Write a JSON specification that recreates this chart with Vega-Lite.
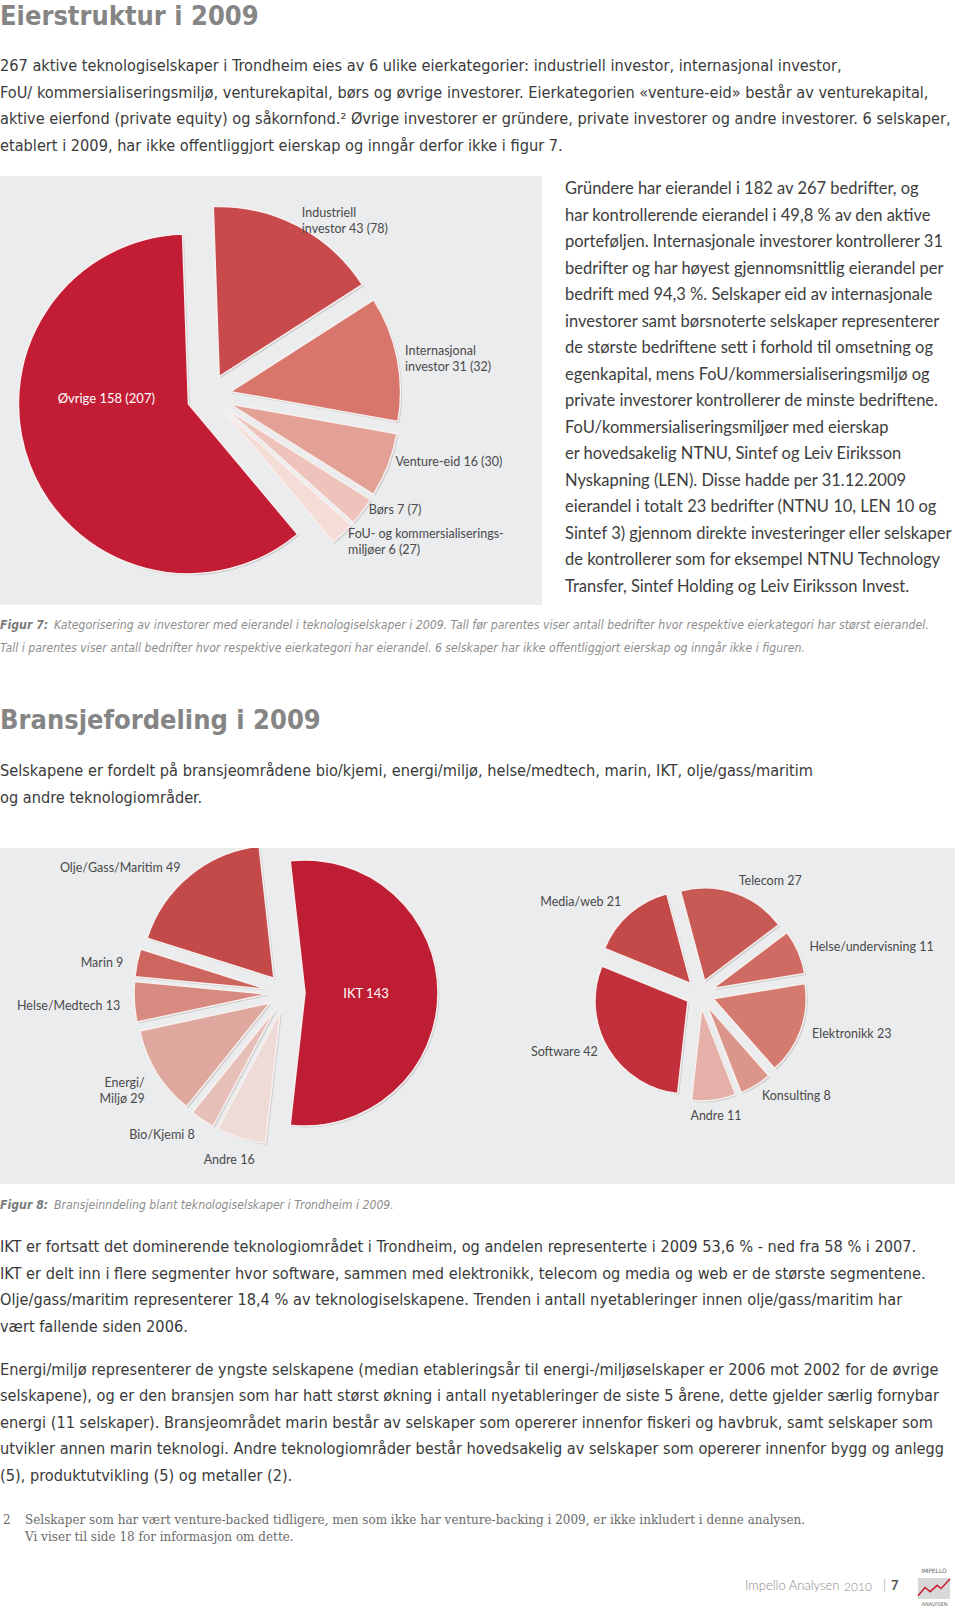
{
  "$schema": "https://vega.github.io/schema/vega-lite/v6.json",
  "background": "white",
  "padding": {"top": 3, "left": 0, "right": 0, "bottom": 0},
  "spacing": 0,
  "resolve": {"scale": {"color": "independent", "theta": "independent"}},
  "config": {
    "view": {"stroke": null},
    "title": {"anchor": "start", "offset": 0, "frame": "group", "orient": "top"},
    "concat": {"spacing": 0}
  },
  "vconcat": [
    {
      "width": 1, "height": 17, "data": {"values": []}, "mark": "text", "encoding": {},
      "title": {
        "text": "Eierstruktur i 2009",
        "font": "DejaVu Sans Condensed, DejaVu Sans, sans-serif",
        "fontSize": 27, "fontWeight": "bold", "color": "#858585",
        "subtitle": [
          "267 aktive teknologiselskaper i Trondheim eies av 6 ulike eierkategorier: industriell investor, internasjonal investor,",
          "FoU/ kommersialiseringsmiljø, venturekapital, børs og øvrige investorer. Eierkategorien «venture-eid» består av venturekapital,",
          "aktive eierfond (private equity) og såkornfond.² Øvrige investorer er gründere, private investorer og andre investorer. 6 selskaper,",
          "etablert i 2009, har ikke offentliggjort eierskap og inngår derfor ikke i figur 7."
        ],
        "subtitleFont": "DejaVu Sans Condensed, DejaVu Sans, sans-serif",
        "subtitleFontSize": 16.2, "subtitleColor": "#3a3a3a", "subtitleLineHeight": 26.5,
        "subtitlePadding": 27, "subtitleFontWeight": "normal"
      }
    },
    {
      "spacing": 23,
      "resolve": {"scale": {"color": "independent", "theta": "independent"}},
      "hconcat": [
        {
          "width": 542, "height": 429,
          "view": {"fill": "#ebecee", "stroke": null},
          "data": {"values": [
            {"name": "Industriell investor", "value": 43, "order": 1, "label": "Industriell\ninvestor 43 (78)"},
            {"name": "Internasjonal investor", "value": 31, "order": 2, "label": "Internasjonal\ninvestor 31 (32)"},
            {"name": "Venture-eid", "value": 16, "order": 3, "label": "Venture-eid 16 (30)"},
            {"name": "Børs", "value": 7, "order": 4, "label": "Børs 7 (7)"},
            {"name": "FoU- og kommersialiseringsmiljøer", "value": 6, "order": 5, "label": "FoU- og kommersialiserings-\nmiljøer 6 (27)"},
            {"name": "Øvrige", "value": 158, "order": 6, "label": "Øvrige 158 (207)"}
          ]},
          "encoding": {
            "theta": {"field": "value", "type": "quantitative", "stack": true, "scale": {"range": [-0.0349, 6.2483]}},
            "order": {"field": "order", "type": "quantitative"},
            "detail": {"field": "name", "type": "nominal"}
          },
          "layer": [
            {"mark": {"type": "arc", "radius": 170, "fill": "#8e8e90", "opacity": 0.35,
              "xOffset": {"expr": "-60.5 + 22*sin(-0.0349 + PI*(datum.value_start + datum.value_end)/261)"},
              "yOffset": {"expr": "7 - 22*cos(-0.0349 + PI*(datum.value_start + datum.value_end)/261)"}}},
            {"mark": {"type": "arc", "radius": 170, "stroke": "#f8f0ee", "strokeWidth": 1.5,
              "xOffset": {"expr": "-62 + 22*sin(-0.0349 + PI*(datum.value_start + datum.value_end)/261)"},
              "yOffset": {"expr": "5.5 - 22*cos(-0.0349 + PI*(datum.value_start + datum.value_end)/261)"}},
             "encoding": {"color": {"field": "name", "type": "nominal", "legend": null,
               "scale": {"domain": ["Industriell investor", "Internasjonal investor", "Venture-eid", "Børs", "FoU- og kommersialiseringsmiljøer", "Øvrige"],
                         "range": ["#c94a4c", "#d8766c", "#e3a196", "#edc3bb", "#f5ddd7", "#c31d36"]}}}},
            {"mark": {"type": "text", "radius": 200, "align": "left", "baseline": "middle", "lineBreak": "\n", "lineHeight": 16,
              "font": "Lato", "fontSize": 12.5, "color": "#4a4a4a", "xOffset": -62, "yOffset": -0.5},
             "encoding": {"text": {"condition": {"test": "sin(-0.0349 + PI*(datum.value_start + datum.value_end)/261) > 0", "field": "label", "type": "nominal"}, "value": ""}}},
            {"mark": {"type": "text", "radius": 110, "align": "center", "baseline": "middle",
              "font": "Lato", "fontSize": 13, "color": "white", "xOffset": -62, "yOffset": -30.5},
             "encoding": {"text": {"condition": {"test": "sin(-0.0349 + PI*(datum.value_start + datum.value_end)/261) < 0", "field": "label", "type": "nominal"}, "value": ""}}}
          ]
        },
        {
          "width": 1, "height": 1, "data": {"values": []}, "mark": "text", "encoding": {},
          "title": {
            "text": [
              "Gründere har eierandel i 182 av 267 bedrifter, og",
              "har kontrollerende eierandel i 49,8 % av den aktive",
              "porteføljen. Internasjonale investorer kontrollerer 31",
              "bedrifter og har høyest gjennomsnittlig eierandel per",
              "bedrift med 94,3 %. Selskaper eid av internasjonale",
              "investorer samt børsnoterte selskaper representerer",
              "de største bedriftene sett i forhold til omsetning og",
              "egenkapital, mens FoU/kommersialiseringsmiljø og",
              "private investorer kontrollerer de minste bedriftene.",
              "FoU/kommersialiseringsmiljøer med eierskap",
              "er hovedsakelig NTNU, Sintef og Leiv Eiriksson",
              "Nyskapning (LEN). Disse hadde per 31.12.2009",
              "eierandel i totalt 23 bedrifter (NTNU 10, LEN 10 og",
              "Sintef 3) gjennom direkte investeringer eller selskaper",
              "de kontrollerer som for eksempel NTNU Technology",
              "Transfer, Sintef Holding og Leiv Eiriksson Invest."
            ],
            "orient": "bottom", "offset": 4, "font": "Lato", "fontSize": 16.5, "fontWeight": "normal",
            "color": "#3d3d3d", "lineHeight": 26.5
          }
        }
      ]
    },
    {"width": 1, "height": 13, "data": {"values": []}, "mark": "text", "encoding": {}},
    {
      "spacing": 5,
      "vconcat": [
        {
          "spacing": 5,
          "hconcat": [
            {"width": 1, "height": 1, "data": {"values": []}, "mark": "text", "encoding": {},
             "title": {"text": "Figur 7:", "font": "DejaVu Sans Condensed, DejaVu Sans, sans-serif", "fontSize": 12.2, "fontStyle": "italic", "fontWeight": "bold", "color": "#7b7b7b"}},
            {"width": 1, "height": 1, "data": {"values": []}, "mark": "text", "encoding": {},
             "title": {"text": "Kategorisering av investorer med eierandel i teknologiselskaper i 2009. Tall før parentes viser antall bedrifter hvor respektive eierkategori har størst eierandel.", "font": "DejaVu Sans Condensed, DejaVu Sans, sans-serif", "fontSize": 12.2, "fontStyle": "italic", "fontWeight": "normal", "color": "#8e8e8e"}}
          ]
        },
        {"width": 1, "height": 49, "data": {"values": []}, "mark": "text", "encoding": {},
         "title": {"text": "Tall i parentes viser antall bedrifter hvor respektive eierkategori har eierandel.  6 selskaper har ikke offentliggjort eierskap og inngår ikke i figuren.", "font": "DejaVu Sans Condensed, DejaVu Sans, sans-serif", "fontSize": 12.2, "fontStyle": "italic", "fontWeight": "normal", "color": "#8e8e8e"}}
      ]
    },
    {
      "width": 1, "height": 37, "data": {"values": []}, "mark": "text", "encoding": {},
      "title": {
        "text": "Bransjefordeling i 2009",
        "font": "DejaVu Sans Condensed, DejaVu Sans, sans-serif",
        "fontSize": 27, "fontWeight": "bold", "color": "#858585",
        "subtitle": [
          "Selskapene er fordelt på bransjeområdene bio/kjemi, energi/miljø, helse/medtech, marin, IKT, olje/gass/maritim",
          "og andre teknologiområder."
        ],
        "subtitleFont": "DejaVu Sans Condensed, DejaVu Sans, sans-serif",
        "subtitleFontSize": 16.2, "subtitleColor": "#3a3a3a", "subtitleLineHeight": 26.5,
        "subtitlePadding": 28, "subtitleFontWeight": "normal"
      }
    },
    {
      "spacing": 0,
      "bounds": "flush",
      "resolve": {"scale": {"color": "independent", "theta": "independent"}},
      "hconcat": [
        {
          "width": 572, "height": 336,
          "view": {"fill": "#ebecee", "stroke": null},
          "data": {"values": [
            {"name": "IKT", "value": 143, "order": 1, "label": "IKT 143"},
            {"name": "Andre", "value": 16, "order": 2, "label": "Andre 16"},
            {"name": "Bio/Kjemi", "value": 8, "order": 3, "label": "Bio/Kjemi 8"},
            {"name": "Energi/Miljø", "value": 29, "order": 4, "label": "Energi/\nMiljø 29"},
            {"name": "Helse/Medtech", "value": 13, "order": 5, "label": "Helse/Medtech 13"},
            {"name": "Marin", "value": 9, "order": 6, "label": "Marin 9"},
            {"name": "Olje/Gass/Maritim", "value": 49, "order": 7, "label": "Olje/Gass/Maritim 49"}
          ]},
          "encoding": {
            "theta": {"field": "value", "type": "quantitative", "stack": true, "scale": {"range": [-0.1117, 6.1715]}},
            "order": {"field": "order", "type": "quantitative"},
            "detail": {"field": "name", "type": "nominal"}
          },
          "layer": [
            {"mark": {"type": "arc", "radius": 133, "fill": "#8e8e90", "opacity": 0.35, "clip": true,
              "xOffset": {"expr": "1.5 + 19*sin(-0.1117 + PI*(datum.value_start + datum.value_end)/267)"},
              "yOffset": {"expr": "-21.5 - 19*cos(-0.1117 + PI*(datum.value_start + datum.value_end)/267)"}}},
            {"mark": {"type": "arc", "radius": 133, "stroke": "#f8f0ee", "strokeWidth": 1.5, "clip": true,
              "xOffset": {"expr": "19*sin(-0.1117 + PI*(datum.value_start + datum.value_end)/267)"},
              "yOffset": {"expr": "-23 - 19*cos(-0.1117 + PI*(datum.value_start + datum.value_end)/267)"}},
             "encoding": {"color": {"field": "name", "type": "nominal", "legend": null,
               "scale": {"domain": ["IKT", "Andre", "Bio/Kjemi", "Energi/Miljø", "Helse/Medtech", "Marin", "Olje/Gass/Maritim"],
                         "range": ["#bf1d33", "#eedad6", "#e6bfb8", "#dfa89f", "#d68a80", "#cc665e", "#c44a4a"]}}}},
            {"mark": {"type": "text", "radius": 166, "align": "right", "baseline": "middle", "lineBreak": "\n", "lineHeight": 16,
              "font": "Lato", "fontSize": 12.5, "color": "#4a4a4a", "yOffset": -20},
             "encoding": {"text": {"condition": {"test": "sin(-0.1117 + PI*(datum.value_start + datum.value_end)/267) < -0.31", "field": "label", "type": "nominal"}, "value": ""}}},
            {"mark": {"type": "text", "radius": 172, "align": "center", "baseline": "middle",
              "font": "Lato", "fontSize": 12.5, "color": "#4a4a4a", "xOffset": -6, "yOffset": -20},
             "encoding": {"text": {"condition": {"test": "abs(sin(-0.1117 + PI*(datum.value_start + datum.value_end)/267)) <= 0.31", "field": "label", "type": "nominal"}, "value": ""}}},
            {"mark": {"type": "text", "radius": 80, "align": "center", "baseline": "middle",
              "font": "Lato", "fontSize": 13, "color": "white", "yOffset": -22},
             "encoding": {"text": {"condition": {"test": "sin(-0.1117 + PI*(datum.value_start + datum.value_end)/267) > 0.31", "field": "label", "type": "nominal"}, "value": ""}}}
          ]
        },
        {
          "width": 383, "height": 336,
          "view": {"fill": "#ebecee", "stroke": null},
          "data": {"values": [
            {"name": "Telecom", "value": 27, "order": 1, "label": "Telecom 27"},
            {"name": "Helse/undervisning", "value": 11, "order": 2, "label": "Helse/undervisning 11"},
            {"name": "Elektronikk", "value": 23, "order": 3, "label": "Elektronikk 23"},
            {"name": "Konsulting", "value": 8, "order": 4, "label": "Konsulting 8"},
            {"name": "Andre", "value": 11, "order": 5, "label": "Andre 11"},
            {"name": "Software", "value": 42, "order": 6, "label": "Software 42"},
            {"name": "Media/web", "value": 21, "order": 7, "label": "Media/web 21"}
          ]},
          "encoding": {
            "theta": {"field": "value", "type": "quantitative", "stack": true, "scale": {"range": [-0.2618, 6.0214]}},
            "order": {"field": "order", "type": "quantitative"},
            "detail": {"field": "name", "type": "nominal"}
          },
          "layer": [
            {"mark": {"type": "arc", "radius": 93, "fill": "#8e8e90", "opacity": 0.35,
              "xOffset": {"expr": "-62 + 14*sin(-0.2618 + PI*(datum.value_start + datum.value_end)/143)"},
              "yOffset": {"expr": "-20.5 - 14*cos(-0.2618 + PI*(datum.value_start + datum.value_end)/143)"}}},
            {"mark": {"type": "arc", "radius": 93, "stroke": "#f8f0ee", "strokeWidth": 1.5,
              "xOffset": {"expr": "-63.5 + 14*sin(-0.2618 + PI*(datum.value_start + datum.value_end)/143)"},
              "yOffset": {"expr": "-22 - 14*cos(-0.2618 + PI*(datum.value_start + datum.value_end)/143)"}},
             "encoding": {"color": {"field": "name", "type": "nominal", "legend": null,
               "scale": {"domain": ["Telecom", "Helse/undervisning", "Elektronikk", "Konsulting", "Andre", "Software", "Media/web"],
                         "range": ["#c85a55", "#cf6b62", "#d47a6e", "#db958a", "#e5b0a7", "#c2303c", "#c44a4a"]}}}},
            {"mark": {"type": "text", "radius": 119, "align": "left", "baseline": "middle",
              "font": "Lato", "fontSize": 12.5, "color": "#4a4a4a", "xOffset": -63.5, "yOffset": -22},
             "encoding": {"text": {"condition": {"test": "sin(-0.2618 + PI*(datum.value_start + datum.value_end)/143) > 0.25", "field": "label", "type": "nominal"}, "value": ""}}},
            {"mark": {"type": "text", "radius": 119, "align": "right", "baseline": "middle",
              "font": "Lato", "fontSize": 12.5, "color": "#4a4a4a", "xOffset": -63.5, "yOffset": -25},
             "encoding": {"text": {"condition": {"test": "sin(-0.2618 + PI*(datum.value_start + datum.value_end)/143) < -0.25", "field": "label", "type": "nominal"}, "value": ""}}},
            {"mark": {"type": "text", "radius": 123, "align": "center", "baseline": "middle",
              "font": "Lato", "fontSize": 12.5, "color": "#4a4a4a", "xOffset": -63.5, "yOffset": -22},
             "encoding": {"text": {"condition": {"test": "abs(sin(-0.2618 + PI*(datum.value_start + datum.value_end)/143)) <= 0.25", "field": "label", "type": "nominal"}, "value": ""}}}
          ]
        }
      ]
    },
    {"width": 1, "height": 14, "data": {"values": []}, "mark": "text", "encoding": {}},
    {
      "spacing": 5,
      "hconcat": [
        {"width": 1, "height": 24, "data": {"values": []}, "mark": "text", "encoding": {},
         "title": {"text": "Figur 8:", "font": "DejaVu Sans Condensed, DejaVu Sans, sans-serif", "fontSize": 12.2, "fontStyle": "italic", "fontWeight": "bold", "color": "#7b7b7b"}},
        {"width": 1, "height": 24, "data": {"values": []}, "mark": "text", "encoding": {},
         "title": {"text": "Bransjeinndeling blant teknologiselskaper i Trondheim i 2009.", "font": "DejaVu Sans Condensed, DejaVu Sans, sans-serif", "fontSize": 12.2, "fontStyle": "italic", "fontWeight": "normal", "color": "#8e8e8e"}}
      ]
    },
    {
      "width": 1, "height": 22, "data": {"values": []}, "mark": "text", "encoding": {},
      "title": {
        "text": [
          "IKT er fortsatt det dominerende teknologiområdet i Trondheim, og andelen representerte i 2009 53,6 % - ned fra 58 % i 2007.",
          "IKT er delt inn i flere segmenter hvor software, sammen med elektronikk, telecom og media og web er de største segmentene.",
          "Olje/gass/maritim representerer 18,4 % av teknologiselskapene. Trenden i antall nyetableringer innen olje/gass/maritim har",
          "vært fallende siden 2006."
        ],
        "font": "DejaVu Sans Condensed, DejaVu Sans, sans-serif",
        "fontSize": 16.2, "fontWeight": "normal", "color": "#3a3a3a", "lineHeight": 26.5,
        "subtitle": [
          "Energi/miljø representerer de yngste selskapene (median etableringsår til energi-/miljøselskaper er 2006 mot 2002 for de øvrige",
          "selskapene), og er den bransjen som har hatt størst økning i antall nyetableringer de siste 5 årene, dette gjelder særlig fornybar",
          "energi (11 selskaper).  Bransjeområdet marin består av selskaper som opererer innenfor fiskeri og havbruk, samt selskaper som",
          "utvikler annen marin teknologi. Andre teknologiområder består hovedsakelig av selskaper som opererer innenfor bygg og anlegg",
          "(5), produktutvikling (5) og metaller (2)."
        ],
        "subtitleFont": "DejaVu Sans Condensed, DejaVu Sans, sans-serif",
        "subtitleFontSize": 16.2, "subtitleColor": "#3a3a3a", "subtitleLineHeight": 26.5,
        "subtitlePadding": 27, "subtitleFontWeight": "normal"
      }
    },
    {
      "spacing": 14,
      "hconcat": [
        {"width": 1, "height": 1, "data": {"values": []}, "mark": "text", "encoding": {},
         "title": {"text": "2", "orient": "bottom", "dx": 3, "font": "DejaVu Serif", "fontSize": 12, "fontWeight": "normal", "color": "#6b6b6b"}},
        {"width": 1, "height": 1, "data": {"values": []}, "mark": "text", "encoding": {},
         "title": {"text": ["Selskaper som har vært venture-backed tidligere, men som ikke har venture-backing i 2009, er ikke inkludert i denne analysen.", "Vi viser til side 18 for informasjon om dette."],
                   "orient": "bottom", "font": "DejaVu Serif", "fontSize": 12, "fontWeight": "normal", "color": "#6b6b6b", "lineHeight": 16.5}}
      ]
    },
    {"width": 1, "height": 25, "data": {"values": []}, "mark": "text", "encoding": {}},
    {
      "spacing": 4,
      "hconcat": [
        {"width": 741, "height": 1, "data": {"values": []}, "mark": "text", "encoding": {}},
        {"width": 1, "height": 1, "data": {"values": []}, "mark": "text", "encoding": {},
         "title": {"text": "Impello Analysen", "orient": "bottom", "offset": 1, "font": "Lato", "fontSize": 13, "fontWeight": 300, "color": "#8a8a8a"}},
        {"width": 1, "height": 1, "data": {"values": []}, "mark": "text", "encoding": {},
         "title": {"text": "2010", "orient": "bottom", "offset": 3, "font": "Lato", "fontSize": 12, "fontWeight": 300, "color": "#8a8a8a"}},
        {"width": 3, "height": 1, "data": {"values": []}, "mark": "text", "encoding": {}},
        {"width": 1, "height": 1, "data": {"values": []}, "mark": "text", "encoding": {},
         "title": {"text": "|", "orient": "bottom", "offset": 1, "font": "Lato", "fontSize": 13, "fontWeight": 300, "color": "#8a8a8a"}},
        {"width": 1, "height": 1, "data": {"values": []}, "mark": "text", "encoding": {},
         "title": {"text": "7", "orient": "bottom", "offset": 1, "font": "Lato", "fontSize": 13, "fontWeight": "bold", "color": "#555555"}},
        {"width": 8, "height": 1, "data": {"values": []}, "mark": "text", "encoding": {}},
        {
          "width": 32, "height": 21,
          "view": {"fill": "#d8d8d8", "stroke": null},
          "data": {"values": [
            {"t": 0, "v": 0.15}, {"t": 0.22, "v": 0.55}, {"t": 0.38, "v": 0.35},
            {"t": 0.6, "v": 0.65}, {"t": 0.72, "v": 0.5}, {"t": 1, "v": 0.95}
          ]},
          "mark": {"type": "line", "color": "#c8202e", "strokeWidth": 1.5},
          "encoding": {
            "x": {"field": "t", "type": "quantitative", "scale": {"domain": [0, 1]},
                  "axis": {"title": "ANALYSEN", "domain": false, "ticks": false, "labels": false, "grid": false,
                           "titleFontSize": 5, "titleColor": "#666666", "titlePadding": 2, "titleFont": "DejaVu Sans", "titleFontWeight": "normal"}},
            "y": {"field": "v", "type": "quantitative", "scale": {"domain": [0, 1]}, "axis": null}
          },
          "title": {"text": "IMPELLO", "orient": "top", "anchor": "middle", "fontSize": 6, "font": "DejaVu Sans", "fontWeight": "normal", "color": "#666666", "offset": 2}
        }
      ]
    }
  ]
}
